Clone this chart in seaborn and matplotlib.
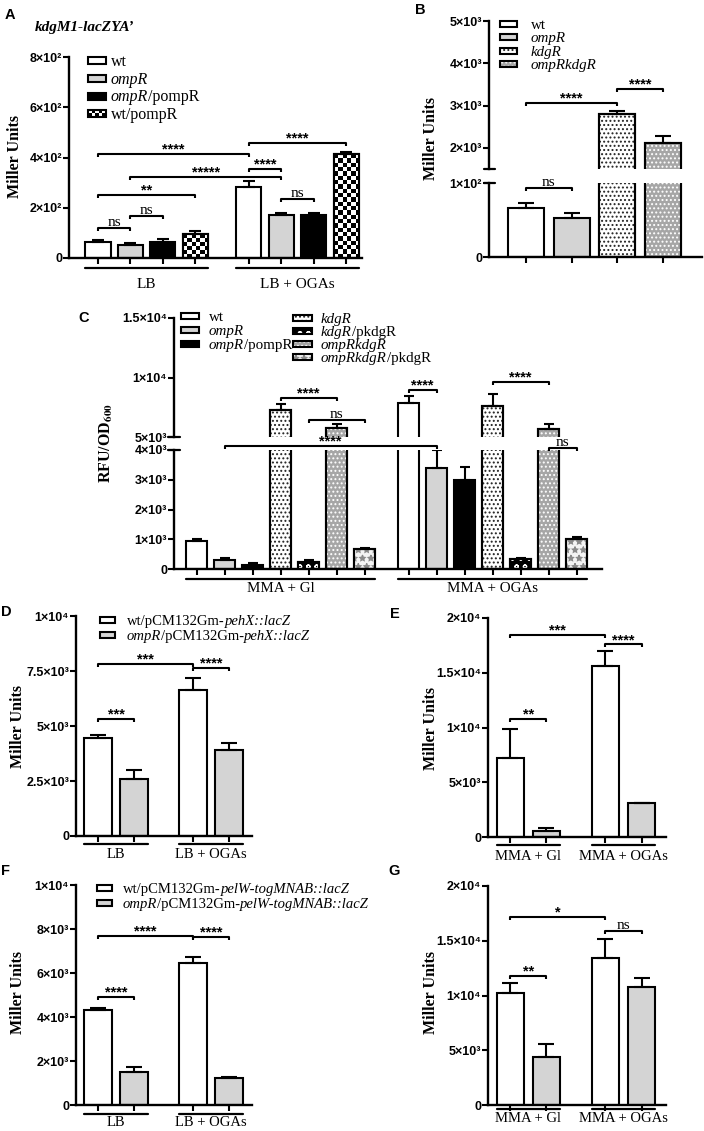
import numpy as np
import pandas as pd
import matplotlib
matplotlib.use("Agg")
import matplotlib.pyplot as plt
import matplotlib.transforms as mtransforms
from matplotlib.patches import Rectangle
from matplotlib.lines import Line2D
from matplotlib.colors import ListedColormap
import seaborn as sns

# ============================ DATA ============================
# Panel A  (kdgM1-lacZYA', Miller Units)
a_conditions = ["LB", "LB + OGAs"]
a_strains = ["wt", "ompR", "ompR/pompR", "wt/pompR"]
a_lb = [64, 50, 65, 95]
a_lb_err = [9, 10, 12, 12]
a_ogas = [281, 172, 172, 413]
a_ogas_err = [27, 9, 9, 10]
a_yticks = [0, 200, 400, 600, 800]
a_yticklabels = ["0", "2×10²", "4×10²", "6×10²", "8×10²"]
a_sig = [(0, 1, 119, "ns"), (1, 2, 169, "ns"), (0, 3, 250, "**"),
         (1, 5, 321, "*****"), (0, 4, 414, "****"), (4, 5, 353, "****"),
         (5, 6, 234, "ns"), (4, 7, 456, "****")]
a_title = "kdgM1-lacZYA’"

# Panel B  (broken axis, Miller Units)
b_strains = ["wt", "ompR", "kdgR", "ompRkdgR"]
b_values = [66, 53, 2790, 2110]
b_err = [7, 7, 88, 180]
b_low_ticks = [0, 100]
b_low_ticklabels = ["0", "1×10²"]
b_high_ticks = [2000, 3000, 4000, 5000]
b_high_ticklabels = ["2×10³", "3×10³", "4×10³", "5×10³"]
b_sig_low = [(0, 1, 93, "ns")]
b_sig_high = [(0, 2, 3060, "****"), (2, 3, 3400, "****")]

# Panel C  (broken axis, RFU/OD600)
c_conditions = ["MMA + Gl", "MMA + OGAs"]
c_strains = ["wt", "ompR", "ompR/pompR", "kdgR", "kdgR/pkdgR",
             "ompRkdgR", "ompRkdgR/pkdgR"]
c_gl = [944, 292, 146, 7260, 247, 5760, 674]
c_gl_err = [66, 68, 44, 510, 45, 310, 34]
c_ogas = [7880, 3405, 3000, 7630, 337, 5650, 1022]
c_ogas_err = [570, 605, 440, 990, 45, 450, 68]
c_low_ticks = [0, 1000, 2000, 3000, 4000]
c_low_ticklabels = ["0", "1×10³", "2×10³", "3×10³", "4×10³"]
c_high_ticks = [5000, 10000, 15000]
c_high_ticklabels = ["5×10³", "1×10⁴", "1.5×10⁴"]
c_sig_high = [(3, 5, 8250, "****"), (4, 6, 6410, "ns"),
              (7, 8, 8950, "****"), (10, 12, 9660, "****")]
c_sig_low = [(1, 8, 4124, "****"), (12, 13, 4067, "ns")]

# Panel D  (pehX::lacZ, Miller Units)
d_conditions = ["LB", "LB + OGAs"]
d_strains = ["wt/pCM132Gm-pehX::lacZ", "ompR/pCM132Gm-pehX::lacZ"]
d_wt = [4470, 6640]
d_wt_err = [130, 540]
d_ompr = [2610, 3890]
d_ompr_err = [380, 330]
d_yticks = [0, 2500, 5000, 7500, 10000]
d_yticklabels = ["0", "2.5×10³", "5×10³", "7.5×10³", "1×10⁴"]
d_sig = [(0, 1, 5330, "***"), (0, 2, 7830, "***"), (2, 3, 7640, "****")]

# Panel E
e_conditions = ["MMA + Gl", "MMA + OGAs"]
e_strains = ["wt/pCM132Gm-pehX::lacZ", "ompR/pCM132Gm-pehX::lacZ"]
e_wt = [7180, 15600]
e_wt_err = [2720, 1430]
e_ompr = [515, 3090]
e_ompr_err = [300, 60]
e_yticks = [0, 5000, 10000, 15000, 20000]
e_yticklabels = ["0", "5×10³", "1×10⁴", "1.5×10⁴", "2×10⁴"]
e_sig = [(0, 1, 10760, "**"), (0, 2, 18480, "***"), (2, 3, 17580, "****")]

# Panel F  (pelW-togMNAB::lacZ)
f_conditions = ["LB", "LB + OGAs"]
f_strains = ["wt/pCM132Gm-pelW-togMNAB::lacZ", "ompR/pCM132Gm-pelW-togMNAB::lacZ"]
f_wt = [4320, 6470]
f_wt_err = [75, 240]
f_ompr = [1485, 1227]
f_ompr_err = [227, 46]
f_yticks = [0, 2000, 4000, 6000, 8000, 10000]
f_yticklabels = ["0", "2×10³", "4×10³", "6×10³", "8×10³", "1×10⁴"]
f_sig = [(0, 1, 4894, "****"), (0, 2, 7680, "****"), (2, 3, 7650, "****")]

# Panel G
g_conditions = ["MMA + Gl", "MMA + OGAs"]
g_strains = ["wt/pCM132Gm-pelW-togMNAB::lacZ", "ompR/pCM132Gm-pelW-togMNAB::lacZ"]
g_wt = [10240, 13400]
g_wt_err = [940, 1790]
g_ompr = [4350, 10820]
g_ompr_err = [1210, 820]
g_yticks = [0, 5000, 10000, 15000, 20000]
g_yticklabels = ["0", "5×10³", "1×10⁴", "1.5×10⁴", "2×10⁴"]
g_sig = [(0, 1, 11820, "**"), (0, 2, 17170, "*"), (2, 3, 15870, "ns")]

# legend label segments (text, italic)
LEGEND_SEGMENTS = {
    "wt": [("wt", False)],
    "ompR": [("ompR", True)],
    "ompR/pompR": [("ompR", True), ("/pompR", False)],
    "wt/pompR": [("wt/pompR", False)],
    "kdgR": [("kdgR", True)],
    "kdgR/pkdgR": [("kdgR", True), ("/pkdgR", False)],
    "ompRkdgR": [("ompRkdgR", True)],
    "ompRkdgR/pkdgR": [("ompRkdgR", True), ("/pkdgR", False)],
    "wt/pCM132Gm-pehX::lacZ": [("wt/pCM132Gm-", False), ("pehX::lacZ", True)],
    "ompR/pCM132Gm-pehX::lacZ": [("ompR", True), ("/pCM132Gm-", False), ("pehX::lacZ", True)],
    "wt/pCM132Gm-pelW-togMNAB::lacZ": [("wt/pCM132Gm-", False), ("pelW-togMNAB::lacZ", True)],
    "ompR/pCM132Gm-pelW-togMNAB::lacZ": [("ompR", True), ("/pCM132Gm-", False),
                                         ("pelW-togMNAB::lacZ", True)],
}

# ============================ STYLE ============================
STYLES = {
    "white": dict(face="white"),
    "lightgray": dict(face="#d4d4d4"),
    "black": dict(face="black"),
    "checker": dict(face="white", checker=True),
    "dots": dict(face="white", hatch="....", hcolor="#222222"),
    "blackdots": dict(face="black", hatch="oo", hcolor="white"),
    "graydots": dict(face="#a6a6a6", hatch="....", hcolor="white"),
    "crosses": dict(face="#f4f4f4", hatch="**", hcolor="#8a8a8a"),
}
STRAIN_STYLE = {
    "wt": "white", "ompR": "lightgray", "ompR/pompR": "black", "wt/pompR": "checker",
    "kdgR": "dots", "kdgR/pkdgR": "blackdots", "ompRkdgR": "graydots",
    "ompRkdgR/pkdgR": "crosses",
    "wt/pCM132Gm-pehX::lacZ": "white", "ompR/pCM132Gm-pehX::lacZ": "lightgray",
    "wt/pCM132Gm-pelW-togMNAB::lacZ": "white", "ompR/pCM132Gm-pelW-togMNAB::lacZ": "lightgray",
}

sns.set_theme(style="ticks")
SERIF = ["Liberation Serif", "DejaVu Serif"]
SANS = ["Liberation Sans", "DejaVu Sans"]
plt.rcParams["font.family"] = SANS
plt.rcParams["mathtext.fontset"] = "stix"
plt.rcParams["hatch.linewidth"] = 0.9

W, H = 704, 1131
fig = plt.figure(figsize=(W / 100, H / 100), dpi=100)
fig.patch.set_facecolor("white")
renderer = fig.canvas.get_renderer()


def fx(x):
    return x / W


def fy(y):
    return 1 - y / H


def axes_px(x0, x1, y0, y1):
    ax = fig.add_axes([fx(x0), fy(y1), (x1 - x0) / W, (y1 - y0) / H])
    ax.patch.set_alpha(0)
    return ax


def make_df(conditions, strains, series):
    rows = []
    for ci, cond in enumerate(conditions):
        for si, s in enumerate(strains):
            rows.append({"condition": cond, "strain": s, "value": series[ci][si]})
    return pd.DataFrame(rows)


def barplot(ax, df, x, order, hue_order, width, gap):
    palette = {s: STYLES[STRAIN_STYLE[s]]["face"] for s in hue_order}
    sns.barplot(data=df, x=x, y="value", hue="strain", order=order, hue_order=hue_order,
                palette=palette, width=width, gap=gap, errorbar=None, legend=False,
                saturation=1, edgecolor="black", linewidth=1.5, ax=ax)
    ax.set_xlabel("")
    ax.set_ylabel("")


def collect(ax, n_cond, n_hue):
    return [ax.containers[h][c] for c in range(n_cond) for h in range(n_hue)]


def center(p):
    return p.get_x() + p.get_width() / 2


def setup_axes(ax, xlim, ylim, yticks, yticklabels, bars, show_x=True):
    ax.set_xlim(*xlim)
    ax.set_ylim(*ylim)
    ax.grid(False)
    ax.set_yticks(yticks)
    ax.set_yticklabels(yticklabels, fontsize=9, fontweight="bold", family=SANS, color="black")
    ax.spines["top"].set_visible(False)
    ax.spines["right"].set_visible(False)
    ax.spines["left"].set_linewidth(1.7)
    ax.spines["left"].set_color("black")
    ax.tick_params(axis="y", length=4, width=1.5, pad=1, colors="black", direction="out")
    if show_x:
        ax.spines["bottom"].set_linewidth(1.7)
        ax.spines["bottom"].set_color("black")
        ax.set_xticks([center(p) for p in bars])
        ax.set_xticklabels([])
        ax.tick_params(axis="x", length=4, width=1.5, colors="black", direction="out")
    else:
        ax.spines["bottom"].set_visible(False)
        ax.tick_params(axis="x", bottom=False, labelbottom=False)


def style_bars(ax, bars, strains):
    for p, s in zip(bars, strains):
        st = STYLES[STRAIN_STYLE[s]]
        p.set_facecolor(st["face"])
        p.set_edgecolor("black")
        p.set_linewidth(1.5)
        z = p.get_zorder()
        extra = False
        if st.get("checker"):
            x0, y0 = ax.transData.transform((p.get_x(), 0))
            x1, y1 = ax.transData.transform((p.get_x() + p.get_width(), p.get_height()))
            nx = max(1, int(round(abs(x1 - x0) / 4.3)))
            ny = max(1, int(round(abs(y1 - y0) / 4.3)))
            arr = np.indices((ny, nx)).sum(axis=0) % 2
            im = ax.imshow(arr, cmap=ListedColormap(["white", "black"]),
                           extent=[p.get_x(), p.get_x() + p.get_width(), 0, p.get_height()],
                           origin="lower", aspect="auto", interpolation="nearest",
                           zorder=z + 0.01)
            im.set_clip_path(p)
            extra = True
        if st.get("hatch"):
            ax.add_patch(Rectangle((p.get_x(), p.get_y()), p.get_width(), p.get_height(),
                                   fill=False, hatch=st["hatch"], edgecolor=st["hcolor"],
                                   linewidth=0, zorder=z + 0.01))
            extra = True
        if extra:
            ax.add_patch(Rectangle((p.get_x(), p.get_y()), p.get_width(), p.get_height(),
                                   fill=False, edgecolor="black", linewidth=1.5, zorder=z + 0.02))


def error_bars(ax, bars, errs, capsize):
    xs = [center(p) for p in bars]
    ys = [p.get_height() for p in bars]
    ax.errorbar(xs, ys, yerr=[np.zeros(len(errs)), errs], fmt="none", ecolor="black",
                elinewidth=1.5, capsize=capsize, capthick=1.5, zorder=3)


def bracket(ax, bars, i, j, y, text, leg_px=3.0):
    xa, xb = center(bars[i]), center(bars[j])
    y0, y1 = ax.get_ylim()
    per_px = (y1 - y0) / ax.bbox.height
    ax.plot([xa, xa, xb, xb], [y - leg_px * per_px, y, y, y - leg_px * per_px],
            color="black", lw=1.5, clip_on=False, solid_capstyle="butt", zorder=4)
    if text.startswith("*"):
        ax.text((xa + xb) / 2, y + 0.5 * per_px, text, ha="center", va="baseline",
                fontsize=10.5, fontweight="bold", family=SANS, color="black")
    else:
        ax.text((xa + xb) / 2, y + 2.0 * per_px, text, ha="center", va="baseline",
                fontsize=11, family=SERIF, color="black")


def group_labels(ax, groups, labels, line_y, text_y, size):
    trans = mtransforms.blended_transform_factory(ax.transData, fig.transFigure)
    for grp, lab in zip(groups, labels):
        xa = grp[0].get_x()
        xb = grp[-1].get_x() + grp[-1].get_width()
        ax.plot([xa, xb], [fy(line_y), fy(line_y)], transform=trans, color="black",
                lw=1.6, clip_on=False)
        ax.text((xa + xb) / 2, fy(text_y), lab, transform=trans, ha="center", va="center",
                fontsize=size, family=SERIF, color="black")


def swatch(x0, yc, w, h, key):
    st = STYLES[key]
    rx, ry, rw, rh = fx(x0), fy(yc + h / 2), w / W, h / H
    fig.add_artist(Rectangle((rx, ry), rw, rh, facecolor=st["face"], edgecolor="none",
                             transform=fig.transFigure))
    if st.get("checker"):
        n, m = 5, 2
        cw, ch = rw / n, rh / m
        for i in range(n):
            for j in range(m):
                if (i + j) % 2 == 0:
                    fig.add_artist(Rectangle((rx + i * cw, ry + j * ch), cw, ch,
                                             facecolor="black", edgecolor="none",
                                             transform=fig.transFigure))
    if st.get("hatch"):
        fig.add_artist(Rectangle((rx, ry), rw, rh, fill=False, hatch=st["hatch"],
                                 edgecolor=st["hcolor"], linewidth=0, transform=fig.transFigure))
    fig.add_artist(Rectangle((rx, ry), rw, rh, fill=False, edgecolor="black", linewidth=1.5,
                             transform=fig.transFigure))


def rich_text(x_px, yc_px, segments, size):
    x = fx(x_px)
    base = fy(yc_px + 0.33 * size * 100 / 72)
    for s, it in segments:
        t = fig.text(x, base, s, fontsize=size, family=SERIF,
                     style="italic" if it else "normal", ha="left", va="baseline",
                     color="black")
        x = t.get_window_extent(renderer).x1 / W


def legend_column(strains, x0, ys, w, h, text_x, size):
    for s, yc in zip(strains, ys):
        swatch(x0, yc, w, h, STRAIN_STYLE[s])
        rich_text(text_x, yc, LEGEND_SEGMENTS[s], size)


def ylabel(x, y, text, size=11.5):
    fig.text(fx(x), fy(y), text, rotation=90, ha="center", va="center", fontsize=size,
             fontweight="bold", family=SERIF, color="black")


def panel_letter(x, y, letter):
    fig.text(fx(x), fy(y), letter, ha="center", va="center", fontsize=10.5,
             fontweight="bold", family=SANS, color="black")


def break_mark(x0, x1, y):
    fig.add_artist(Line2D([fx(x0), fx(x1)], [fy(y), fy(y)], color="black", lw=1.6,
                          transform=fig.transFigure))


# ============================ PANEL A ============================
axA = axes_px(69, 362, 57, 258)
dfA = make_df(a_conditions, a_strains, [a_lb, a_ogas])
barplot(axA, dfA, "condition", a_conditions, a_strains, 0.861, 0.23)
barsA = collect(axA, 2, 4)
setup_axes(axA, (-0.515, 1.426), (0, 800), a_yticks, a_yticklabels, barsA)
style_bars(axA, barsA, a_strains * 2)
setup_axes(axA, (-0.515, 1.426), (0, 800), a_yticks, a_yticklabels, barsA)
error_bars(axA, barsA, a_lb_err + a_ogas_err, 4)
for i, j, y, t in a_sig:
    bracket(axA, barsA, i, j, y, t)
group_labels(axA, [barsA[:4], barsA[4:]], a_conditions, 268, 285, 11)
legend_column(a_strains, 88, [60.7, 78.3, 96, 113.3], 18, 7, 111, 11.5)
ylabel(15, 157, "Miller Units")
fig.text(fx(35), fy(27), a_title, ha="left", va="center", fontsize=11,
         fontweight="bold", style="italic", family=SERIF, color="black")
panel_letter(10, 15, "A")

# ============================ PANEL B ============================
dfB = pd.DataFrame({"strain": b_strains, "value": b_values})
axBh = axes_px(489, 702, 21, 169)
axBl = axes_px(489, 702, 183, 257)
for axb in (axBh, axBl):
    barplot(axb, dfB, "strain", b_strains, b_strains, 0.79, 0)
barsBh = collect(axBh, 1, 4)
barsBl = collect(axBl, 1, 4)
setup_axes(axBh, (-0.81, 3.854), (1500, 5000), b_high_ticks, b_high_ticklabels, barsBh, show_x=False)
setup_axes(axBl, (-0.81, 3.854), (0, 100), b_low_ticks, b_low_ticklabels, barsBl)
style_bars(axBh, barsBh, b_strains)
style_bars(axBl, barsBl, b_strains)
error_bars(axBh, barsBh, b_err, 5.5)
error_bars(axBl, barsBl, b_err, 5.5)
for i, j, y, t in b_sig_high:
    bracket(axBh, barsBh, i, j, y, t)
for i, j, y, t in b_sig_low:
    bracket(axBl, barsBl, i, j, y, t)
break_mark(484, 495, 169)
break_mark(484, 495, 183)
legend_column(b_strains, 500, [24, 37.3, 50.7, 64], 17, 6, 531, 10.8)
ylabel(431, 138, "Miller Units")
panel_letter(420, 10, "B")

# ============================ PANEL C ============================
dfC = make_df(c_conditions, c_strains, [c_gl, c_ogas])
axCh = axes_px(174, 602, 318, 437)
axCl = axes_px(174, 602, 450, 569)
for axc in (axCh, axCl):
    barplot(axc, dfC, "condition", c_conditions, c_strains, 0.925, 0.25)
barsCh = collect(axCh, 2, 7)
barsCl = collect(axCl, 2, 7)
setup_axes(axCh, (-0.503, 1.516), (5000, 15000), c_high_ticks, c_high_ticklabels, barsCh, show_x=False)
setup_axes(axCl, (-0.503, 1.516), (0, 4000), c_low_ticks, c_low_ticklabels, barsCl)
style_bars(axCh, barsCh, c_strains * 2)
style_bars(axCl, barsCl, c_strains * 2)
error_bars(axCh, barsCh, c_gl_err + c_ogas_err, 3.5)
error_bars(axCl, barsCl, c_gl_err + c_ogas_err, 3.5)
for i, j, y, t in c_sig_high:
    bracket(axCh, barsCh, i, j, y, t)
for i, j, y, t in c_sig_low:
    bracket(axCl, barsCl, i, j, y, t)
break_mark(168, 180, 437)
break_mark(168, 180, 450)
group_labels(axCl, [barsCl[:7], barsCl[7:]], c_conditions, 579, 589, 10.8)
legend_column(c_strains[:3], 181, [316, 330, 344], 18, 6, 209, 10.8)
legend_column(c_strains[3:], 293, [318, 331, 344, 357], 19, 6, 321, 10.8)
ylabel(106, 443, r"RFU/OD$_{\mathbf{600}}$")
panel_letter(84, 318, "C")

# ============================ PANELS D-G ============================
def simple_panel(box, xlim, ylim, conditions, strains, wt, wt_err, om, om_err,
                 yticks, yticklabels, sig, line_y, text_y, width, gap, capsize):
    ax = axes_px(*box)
    df = make_df(conditions, strains, [[wt[0], om[0]], [wt[1], om[1]]])
    barplot(ax, df, "condition", conditions, strains, width, gap)
    bars = collect(ax, 2, 2)
    setup_axes(ax, xlim, ylim, yticks, yticklabels, bars)
    style_bars(ax, bars, strains * 2)
    error_bars(ax, bars, [wt_err[0], om_err[0], wt_err[1], om_err[1]], capsize)
    for i, j, y, t in sig:
        bracket(ax, bars, i, j, y, t)
    group_labels(ax, [bars[:2], bars[2:]], conditions, line_y, text_y, 10.5)
    return ax


simple_panel((76, 252, 616, 836), (-0.425, 1.433), (0, 10000), d_conditions, d_strains,
             d_wt, d_wt_err, d_ompr, d_ompr_err, d_yticks, d_yticklabels, d_sig,
             844, 855, 0.76, 0.22, 6)
legend_column(d_strains, 100, [620, 635], 15, 6, 127, 10.5)
ylabel(18, 726, "Miller Units")
panel_letter(6, 612, "D")

simple_panel((488, 666, 618, 837), (-0.423, 1.446), (0, 20000), e_conditions, e_strains,
             e_wt, e_wt_err, e_ompr, e_ompr_err, e_yticks, e_yticklabels, e_sig,
             845, 857, 0.761, 0.255, 6)
ylabel(431, 728, "Miller Units")
panel_letter(395, 614, "E")

simple_panel((76, 252, 885, 1105), (-0.425, 1.433), (0, 10000), f_conditions, f_strains,
             f_wt, f_wt_err, f_ompr, f_ompr_err, f_yticks, f_yticklabels, f_sig,
             1114, 1123, 0.76, 0.22, 6)
legend_column(f_strains, 97, [888, 903], 15, 6, 123, 10.5)
ylabel(18, 993, "Miller Units")
panel_letter(5, 871, "F")

simple_panel((488, 666, 886, 1105), (-0.423, 1.446), (0, 20000), g_conditions, g_strains,
             g_wt, g_wt_err, g_ompr, g_ompr_err, g_yticks, g_yticklabels, g_sig,
             1109, 1118, 0.761, 0.255, 6)
ylabel(431, 993, "Miller Units")
panel_letter(394, 871, "G")

fig.savefig("out.png", dpi=100, facecolor="white")
